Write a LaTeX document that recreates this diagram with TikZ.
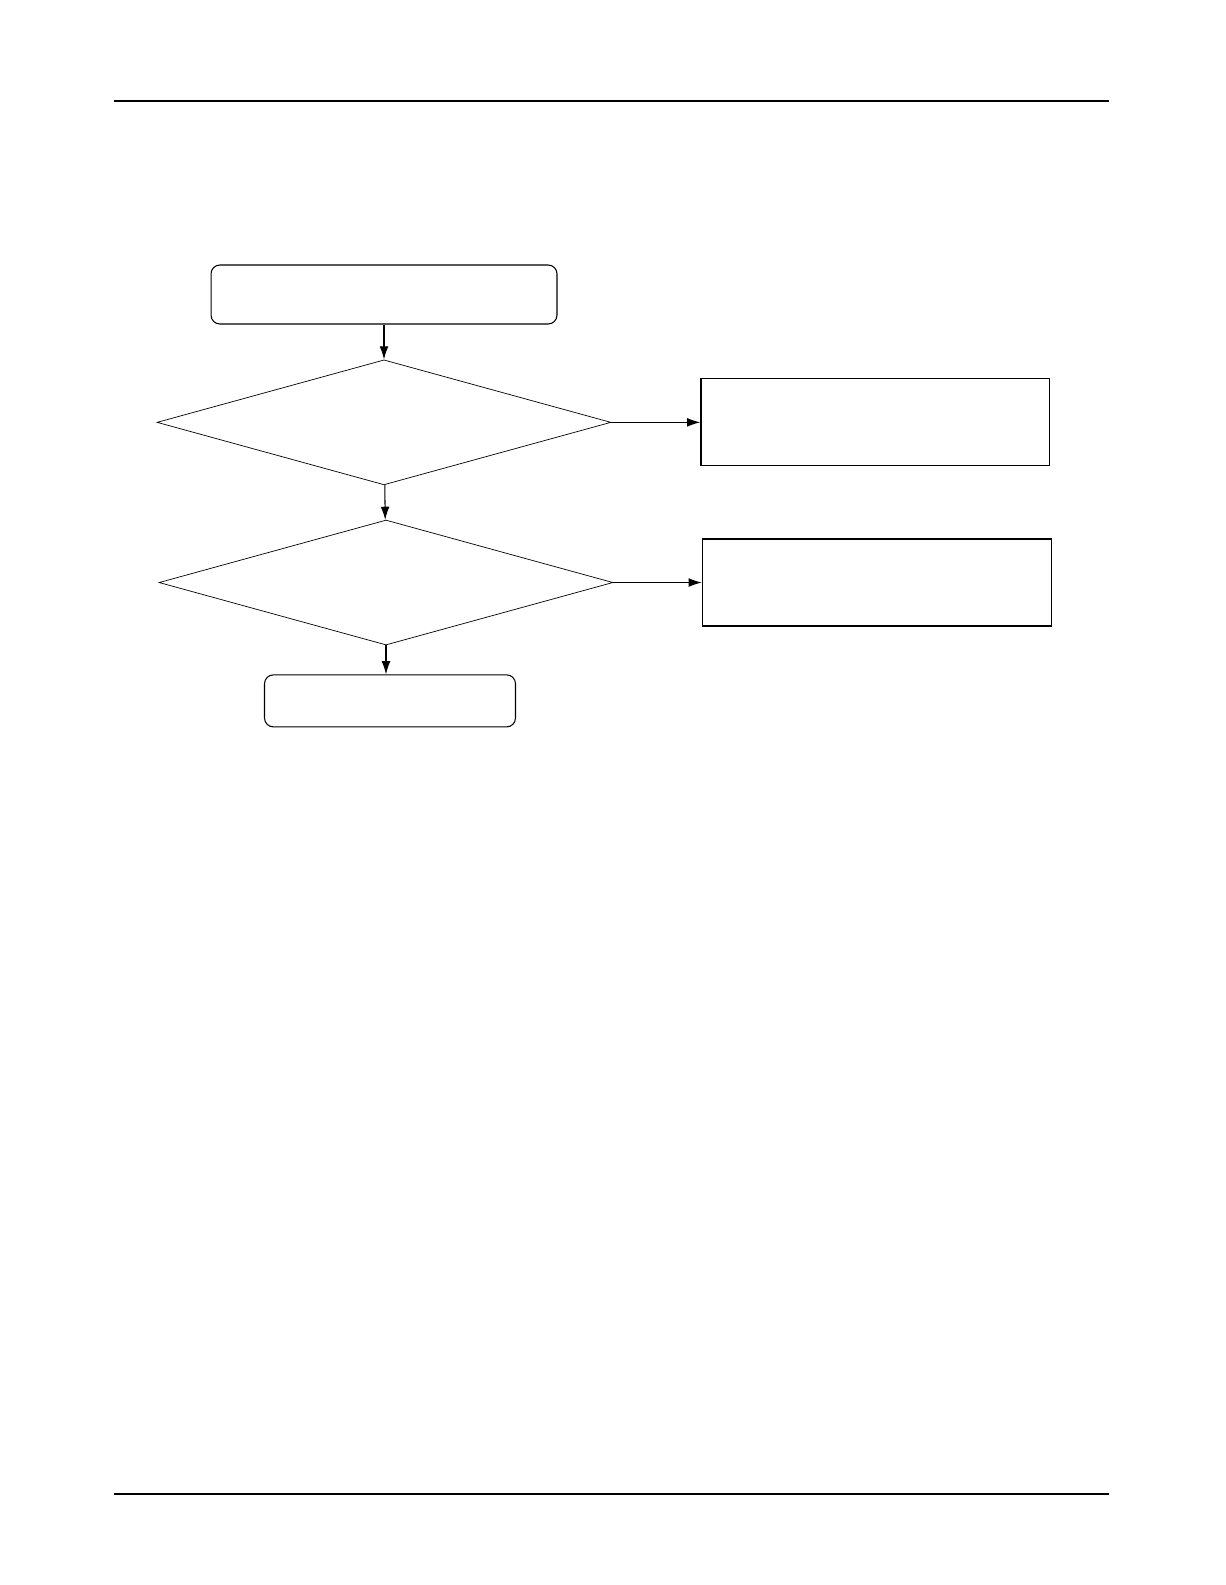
\documentclass[tikz,border=0pt]{standalone}
\usetikzlibrary{arrows.meta,positioning,shapes.geometric}
\begin{document}
\begin{tikzpicture}[>={Latex[length=7.5pt,width=5pt]},x=0.02cm,y=-0.02cm]
  \tikzstyle{term}=[draw,rounded corners=5pt,line width=0.6pt]
  \tikzstyle{test}=[draw,diamond,inner sep=0pt,line width=0.4pt,minimum width=9.08cm,minimum height=2.50cm]
  \tikzstyle{act}=[draw,line width=0.7pt,minimum width=6.98cm,minimum height=1.74cm]
  \tikzstyle{flow}=[line width=0.6pt,->]
  \useasboundingbox (0,0) rectangle (1225,1585);
  % page rules
  \draw[line width=1pt] (114,101) -- (1109,101);
  \draw[line width=1pt] (114,1494) -- (1109,1494);
  \node[term,minimum width=6.92cm,minimum height=1.18cm] (start) at (384,294.5) {};
  \node[test,below=0.70cm of start] (chk1) {};
  \node[act,right=1.78cm of chk1] (act1) {};
  \node[test,below=0.69cm of chk1,xshift=0.04cm] (chk2) {};
  \node[act,right=1.77cm of chk2] (act2) {};
  \node[term,minimum width=5.02cm,minimum height=1.04cm,below=0.58cm of chk2,xshift=0.08cm] (done) {};
  \draw[flow] (start) -- (chk1);
  \draw[flow] (chk1) -- (act1);
  \draw[flow] (chk1) -- (chk2);
  \draw[flow] (chk2) -- (act2);
  \draw[flow] (chk2.south) -- (chk2.south |- done.north);
\end{tikzpicture}
\end{document}
